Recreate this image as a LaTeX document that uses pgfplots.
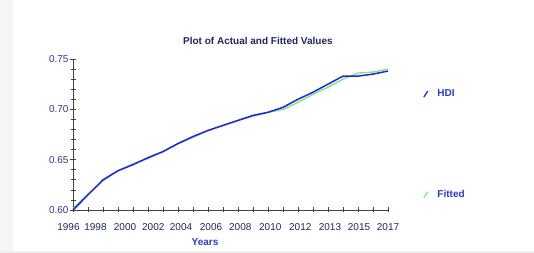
\documentclass[border=0pt]{standalone}
\usepackage{pgfplots}
\pgfplotsset{compat=1.18}
\usepackage{fontspec}
\setmainfont{Liberation Sans}
\definecolor{hdiblue}{RGB}{35,35,225}
\definecolor{fitgreen}{RGB}{120,235,120}
\definecolor{navy}{RGB}{30,40,95}
\definecolor{labblue}{RGB}{40,60,190}
\definecolor{ticklab}{RGB}{70,45,140}
\begin{document}
\begin{tikzpicture}
\fill[white] (0,0) rectangle (534pt,253pt);
\fill[gray!8] (0,0) rectangle (13pt,253pt);
\fill[gray!12] (0,0) rectangle (534pt,1.5pt);
\begin{axis}[
  at={(73pt,43pt)}, anchor=south west,
  scale only axis, width=315pt, height=151pt,
  xmin=0, xmax=21, ymin=0.60, ymax=0.75,
  axis lines=left, axis line style={-, line width=0.6pt, black!75},
  tick align=center,
  xtick={0,1.5,3.47,5.35,7.2,9.2,11.15,13.15,15.15,17.13,19.07,21},
  xticklabels={\hspace*{-9pt}1996,1998,2000,2002,2004,2006,2008,2010,2012,2013,2015,2017},
  minor xtick={0,1,...,21},
  major x tick style={draw=none},
  minor tick length=5pt, major tick length=6pt,
  ytick={0.60,0.65,0.70,0.75},
  yticklabels={0.60,0.65,0.70,0.75},
  minor ytick={0.61,0.62,0.63,0.64,0.66,0.67,0.68,0.69,0.71,0.72,0.73,0.74},
  every tick/.style={black!75, line width=0.6pt},
  xticklabel style={font=\fontsize{10}{12}\selectfont, text=navy, yshift=-6.5pt},
  yticklabel style={font=\fontsize{10}{12}\selectfont, text=ticklab, xshift=2pt},
  /pgf/number format/assume math mode=true,
  xlabel={Years},
  xlabel style={at={(axis description cs:0.419,-0.212)}, anchor=center, font=\bfseries\fontsize{10}{12}\selectfont, text=labblue},
  title={Plot of Actual and Fitted Values},
  title style={at={(axis description cs:0.587,1.08)}, anchor=center, font=\bfseries\fontsize{10}{12}\selectfont, text=navy},
  clip=false,
  reverse legend,
  legend style={at={(axis description cs:1.111,0.81)}, anchor=north west, draw=none, fill=none,
    font=\bfseries\fontsize{10}{12}\selectfont, text=labblue, row sep=88pt, inner sep=0pt,
    /tikz/every odd column/.append style={column sep=7pt}},
  legend cell align=left,
  legend image code/.code={\draw[#1, line width=1.3pt] (0pt,-3pt) -- (4pt,3pt);},
]
\addplot[fitgreen, line width=1.4pt] coordinates {
(0,0.601) (1,0.616) (2,0.629) (3,0.639) (4,0.646) (5,0.651) (6,0.658) (7,0.666) (8,0.672) (9,0.679) (10,0.684)
(11,0.689) (12,0.693) (13,0.697) (14,0.700) (15,0.707) (16,0.715) (17,0.722) (18,0.730) (19,0.736) (20,0.737) (21,0.740)};
\addlegendentry{Fitted}
\addplot[hdiblue, line width=1.5pt] coordinates {
(0,0.600) (1,0.615) (2,0.630) (3,0.639) (4,0.645) (5,0.652) (6,0.658) (7,0.666) (8,0.673) (9,0.679) (10,0.684)
(11,0.689) (12,0.694) (13,0.697) (14,0.702) (15,0.710) (16,0.717) (17,0.725) (18,0.733) (19,0.733) (20,0.735) (21,0.738)};
\addlegendentry{HDI}
\end{axis}
\pgfresetboundingbox
\useasboundingbox (0,0) rectangle (534pt,253pt);
\end{tikzpicture}
\end{document}
